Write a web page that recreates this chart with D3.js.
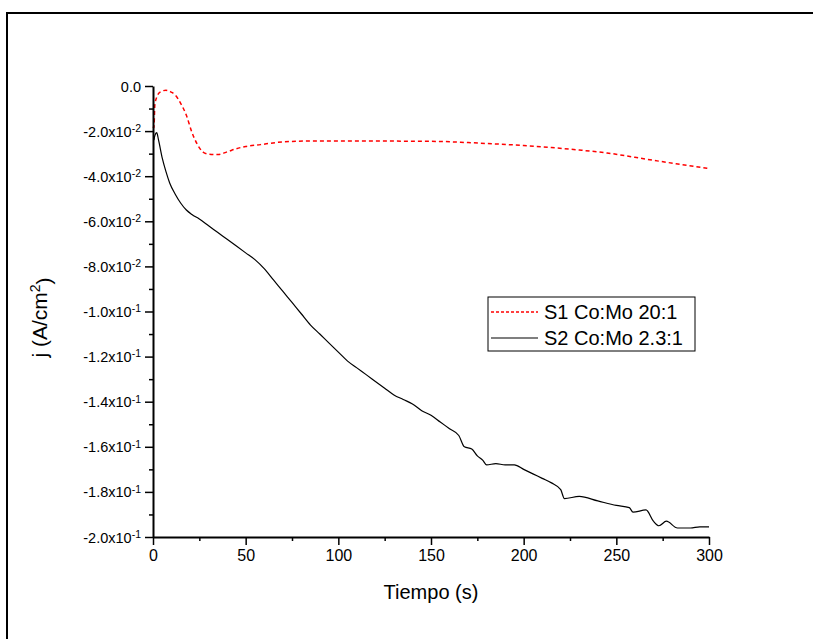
<!DOCTYPE html>
<html>
<head>
<meta charset="utf-8">
<script src="https://cdn.jsdelivr.net/npm/d3@7"></script>
<style>
  body { margin: 0; background: #fff; }
  text { font-family: Arial, "Liberation Sans", sans-serif; }
</style>
</head>
<body>
<svg id="chart" width="813" height="639"></svg>
<script>
const width = 813;
const height = 639;

// S1 Co:Mo 20:1 (red dashed)
const s1Time = [0, 0.5, 1, 2, 4, 7, 10, 12, 15, 18, 21, 24, 27, 30, 35, 40, 45, 50, 58, 66, 74, 85, 100, 120, 140, 155, 170, 185, 200, 215, 230, 245, 260, 272, 285, 300];
const s1Curr = [-0.018, -0.0185, -0.0084, -0.005, -0.0026, -0.0019, -0.0028, -0.004, -0.0078, -0.013, -0.0205, -0.026, -0.0293, -0.0302, -0.0304, -0.0292, -0.0278, -0.0268, -0.026, -0.0251, -0.0246, -0.0244, -0.0244, -0.0244, -0.0245, -0.0246, -0.0251, -0.0257, -0.0264, -0.0273, -0.0284, -0.0297, -0.0316, -0.0332, -0.0348, -0.0366];

// S2 Co:Mo 2.3:1 (black solid)
const s2Time = [0.5, 1, 2, 3, 5, 7, 9, 12, 15, 18, 21, 25, 30, 35, 40, 45, 50, 55, 60, 65, 70, 75, 80, 85, 90, 95, 100, 105, 110, 115, 120, 125, 130, 135, 140, 145, 150, 155, 160, 165, 168, 172, 175, 178, 180, 185, 190, 195, 200, 205, 210, 215, 220, 222, 230, 240, 250, 257, 259, 266, 270, 273, 277, 283, 290, 295, 300];
const s2Curr = [-0.024, -0.022, -0.0207, -0.024, -0.032, -0.038, -0.043, -0.048, -0.052, -0.055, -0.057, -0.059, -0.062, -0.065, -0.068, -0.071, -0.074, -0.077, -0.081, -0.086, -0.091, -0.096, -0.101, -0.106, -0.110, -0.114, -0.118, -0.122, -0.125, -0.128, -0.131, -0.134, -0.137, -0.139, -0.141, -0.144, -0.146, -0.149, -0.152, -0.155, -0.160, -0.161, -0.164, -0.166, -0.168, -0.1675, -0.168, -0.168, -0.170, -0.172, -0.174, -0.176, -0.179, -0.183, -0.182, -0.184, -0.186, -0.187, -0.189, -0.188, -0.193, -0.195, -0.193, -0.196, -0.196, -0.1955, -0.1955];

const xTicks = [0, 50, 100, 150, 200, 250, 300];
const yTicks = [0, -0.02, -0.04, -0.06, -0.08, -0.10, -0.12, -0.14, -0.16, -0.18, -0.20];
const yMant = ["0.0", "-2.0", "-4.0", "-6.0", "-8.0", "-1.0", "-1.2", "-1.4", "-1.6", "-1.8", "-2.0"];
const yExp = [null, "-2", "-2", "-2", "-2", "-1", "-1", "-1", "-1", "-1", "-1"];

const seriesNames = ["S1 Co:Mo 20:1", "S2 Co:Mo 2.3:1"];

const margin = { top: 86, right: 104, bottom: 102, left: 153 };

const svg = d3.select("#chart");

// outer frame (only top and left edges fall inside the picture)
svg.append("rect")
  .attr("x", 7).attr("y", 13)
  .attr("width", 830).attr("height", 660)
  .attr("fill", "none")
  .attr("stroke", "black")
  .attr("stroke-width", 2);

const x = d3.scaleLinear()
  .domain([0, 300])
  .range([margin.left, width - margin.right]);

const y = d3.scaleLinear()
  .domain([-0.2, 0])
  .range([height - margin.bottom, margin.top]);

const s1 = s1Time.map((t, i) => ({ t, v: s1Curr[i] }));
const s2 = s2Time.map((t, i) => ({ t, v: s2Curr[i] }));

const line = d3.line()
  .x(d => x(d.t))
  .y(d => y(d.v))
  .curve(d3.curveMonotoneX);

svg.append("path")
  .datum(s2)
  .attr("fill", "none")
  .attr("stroke", "black")
  .attr("stroke-width", 1.2)
  .attr("d", line);

svg.append("path")
  .datum(s1)
  .attr("fill", "none")
  .attr("stroke", "red")
  .attr("stroke-width", 1.5)
  .attr("stroke-dasharray", "4,3")
  .attr("d", line);

// minor ticks
const xMinor = d3.range(25, 300, 50);
const yMinor = d3.range(-0.19, 0, 0.02);

const xAxisG = svg.append("g")
  .attr("transform", `translate(0,${height - margin.bottom})`);
xAxisG.call(d3.axisBottom(x).tickValues(xMinor).tickSize(4).tickFormat(""));
xAxisG.call(g => g.select(".domain").remove());
const xAxisMajor = svg.append("g")
  .attr("transform", `translate(0,${height - margin.bottom})`)
  .call(d3.axisBottom(x).tickValues(xTicks).tickSize(8).tickSizeOuter(0).tickPadding(5));

const yAxisG = svg.append("g")
  .attr("transform", `translate(${margin.left},0)`);
yAxisG.call(d3.axisLeft(y).tickValues(yMinor).tickSize(4).tickFormat(""));
yAxisG.call(g => g.select(".domain").remove());
const yAxisMajor = svg.append("g")
  .attr("transform", `translate(${margin.left},0)`)
  .call(d3.axisLeft(y).tickValues(yTicks).tickSize(8).tickSizeOuter(0).tickFormat(""));

svg.selectAll(".domain").attr("stroke-width", 2);
svg.selectAll(".tick line").attr("stroke-width", 1.5);

xAxisMajor.selectAll("text")
  .attr("font-size", "16px")
  .attr("font-family", "Arial, 'Liberation Sans', sans-serif")
  .attr("fill", "black");

// y tick labels with superscript exponents
yAxisMajor.selectAll(".tick").each(function(d, i) {
  const t = d3.select(this).append("text")
    .attr("x", -12)
    .attr("dy", "0.35em")
    .attr("text-anchor", "end")
    .attr("fill", "black")
    .attr("font-size", "14.5px")
    .attr("font-family", "Arial, 'Liberation Sans', sans-serif");
  if (yExp[i] === null) {
    t.text(yMant[i]);
  } else {
    t.append("tspan").text(yMant[i] + "x10");
    t.append("tspan").attr("dy", "-0.45em").attr("font-size", "10.5px").text(yExp[i]);
  }
});

// axis titles
svg.append("text")
  .attr("x", x(150))
  .attr("y", 592)
  .attr("dy", "0.35em")
  .attr("text-anchor", "middle")
  .attr("font-size", "20px")
  .text("Tiempo (s)");

const yt = svg.append("text")
  .attr("transform", `translate(47,${y(-0.1) + 6}) rotate(-90)`)
  .attr("text-anchor", "middle")
  .attr("font-size", "21px");
yt.append("tspan").text("j (A/cm");
yt.append("tspan").attr("dy", "-0.5em").attr("font-size", "14px").text("2");
yt.append("tspan").attr("dy", "0.5em").text(")");

// legend
const legend = svg.append("g").attr("transform", "translate(488,297)");
legend.append("rect")
  .attr("width", 207).attr("height", 54)
  .attr("fill", "white")
  .attr("stroke", "black")
  .attr("stroke-width", 1);

seriesNames.forEach((name, i) => {
  const ly = 15 + i * 26;
  legend.append("line")
    .attr("x1", 3).attr("x2", 50)
    .attr("y1", ly).attr("y2", ly)
    .attr("stroke", i === 0 ? "red" : "black")
    .attr("stroke-width", i === 0 ? 1.5 : 1.2)
    .attr("stroke-dasharray", i === 0 ? "3,2" : null);
  legend.append("text")
    .attr("x", 56)
    .attr("y", ly)
    .attr("dy", "0.35em")
    .attr("font-size", "20px")
    .text(name);
});
</script>
</body>
</html>
